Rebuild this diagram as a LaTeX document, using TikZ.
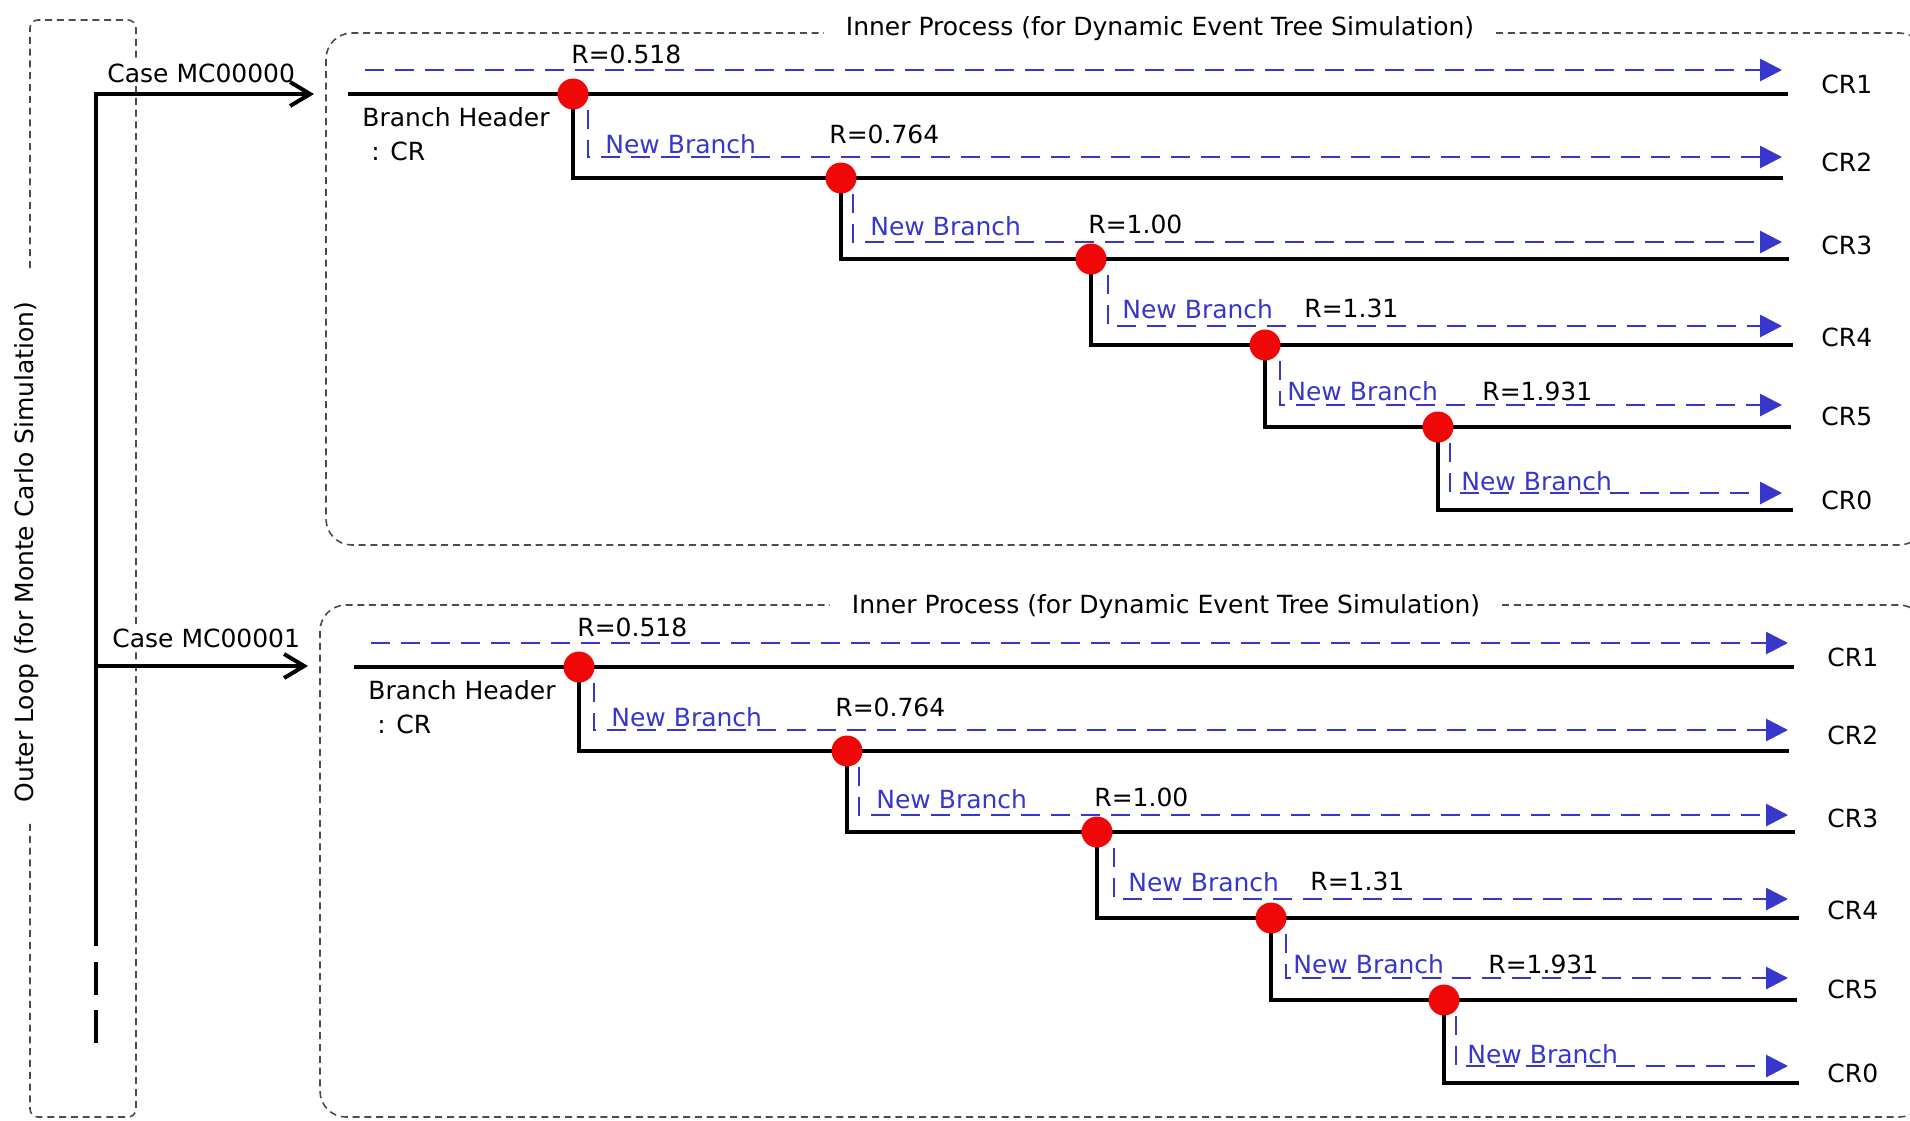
\documentclass[tikz,border=0pt]{standalone}
\usepackage{fontspec}
\setmainfont{DejaVu Sans}
\usetikzlibrary{arrows.meta}

\definecolor{branchblue}{RGB}{55,55,205}
\definecolor{eventred}{RGB}{240,8,8}

\tikzset{
  frame/.style={draw=black!70, line width=0.8pt, dash pattern=on 3.5pt off 2.4pt},
  path line/.style={draw=black, line width=1.8pt},
  trunk/.style={draw=black, line width=2.2pt},
  case arrow/.style={trunk, -{Straight Barb[length=10pt,width=12pt,line width=2pt]}},
  branch/.style={draw=branchblue, line width=1.4pt, dash pattern=on 9.5pt off 5.5pt,
    -{Triangle[length=11pt,width=11pt]}},
  evdot/.style={circle, fill=eventred, minimum size=15.5pt, inner sep=0pt},
  lbl/.style={font=\fontsize{12.5}{15}\selectfont, inner sep=0pt, text=black},
  blbl/.style={lbl, text=branchblue},
  title/.style={lbl, fill=white, inner xsep=11pt, inner ysep=2pt},
}

% One dynamic event tree: #1 = name prefix, #2 = shift of the whole tree
\newcommand{\eventtree}[2]{%
\begin{scope}[shift={#2}]
  % branch points
  \coordinate (#1s1) at (348,94);
  \coordinate (#1e1) at (1788,94);
  \coordinate (#1e2) at (1783,178);
  \coordinate (#1e3) at (1789,259);
  \coordinate (#1e4) at (1793,345);
  \coordinate (#1e5) at (1791,427);
  \coordinate (#1e6) at (1793,510);
  \coordinate (#1p1) at (573,94);
  \coordinate (#1p2) at (841,178);
  \coordinate (#1p3) at (1091,259);
  \coordinate (#1p4) at (1265,345);
  \coordinate (#1p5) at (1438,427);
  % black branch paths
  \draw[path line] (#1s1) -- (#1e1);
  \draw[path line] (#1p1) |- (#1e2);
  \draw[path line] (#1p2) |- (#1e3);
  \draw[path line] (#1p3) |- (#1e4);
  \draw[path line] (#1p4) |- (#1e5);
  \draw[path line] (#1p5) |- (#1e6);
  % blue dashed new-branch arrows
  \coordinate (#1b1) at (365,70);    \coordinate (#1a1) at (1782,70);
  \coordinate (#1b2) at (588,110);   \coordinate (#1a2) at (1782,157);
  \coordinate (#1b3) at (853,194);   \coordinate (#1a3) at (1782,242);
  \coordinate (#1b4) at (1108,275);  \coordinate (#1a4) at (1782,326);
  \coordinate (#1b5) at (1280,361);  \coordinate (#1a5) at (1782,405);
  \coordinate (#1b6) at (1450,443);  \coordinate (#1a6) at (1782,493);
  \draw[branch] (#1b1) -- (#1a1);
  \draw[branch] (#1b2) |- (#1a2);
  \draw[branch] (#1b3) |- (#1a3);
  \draw[branch] (#1b4) |- (#1a4);
  \draw[branch] (#1b5) |- (#1a5);
  \draw[branch] (#1b6) |- (#1a6);
  % event points
  \node[evdot] (#1d1) at (#1p1) {};
  \node[evdot] (#1d2) at (#1p2) {};
  \node[evdot] (#1d3) at (#1p3) {};
  \node[evdot] (#1d4) at (#1p4) {};
  \node[evdot] (#1d5) at (#1p5) {};
  % thresholds
  \node[lbl, anchor=base west] (#1r1) at (571,63)   {R=0.518};
  \node[lbl, anchor=base west] (#1r2) at (829,143)  {R=0.764};
  \node[lbl, anchor=base west] (#1r3) at (1088,233) {R=1.00};
  \node[lbl, anchor=base west] (#1r4) at (1304,317) {R=1.31};
  \node[lbl, anchor=base west] (#1r5) at (1482,400) {R=1.931};
  % new branch labels
  \node[blbl, anchor=base west] (#1n2) at (605,153)  {New Branch};
  \node[blbl, anchor=base west] (#1n3) at (870,235)  {New Branch};
  \node[blbl, anchor=base west] (#1n4) at (1122,318) {New Branch};
  \node[blbl, anchor=base west] (#1n5) at (1287,400) {New Branch};
  \node[blbl, anchor=base west] (#1n6) at (1461,490) {New Branch};
  % branch header
  \node[lbl, anchor=base west] (#1h1) at (362,126) {Branch Header};
  \node[lbl, anchor=base west] (#1h2) at (371,160) {: CR};
  % end states
  \node[lbl, anchor=base west] (#1cr1) at (1821,93)  {CR1};
  \node[lbl, anchor=base west] (#1cr2) at (1821,171) {CR2};
  \node[lbl, anchor=base west] (#1cr3) at (1821,254) {CR3};
  \node[lbl, anchor=base west] (#1cr4) at (1821,346) {CR4};
  \node[lbl, anchor=base west] (#1cr5) at (1821,425) {CR5};
  \node[lbl, anchor=base west] (#1cr0) at (1821,509) {CR0};
\end{scope}}

\begin{document}
\begin{tikzpicture}[x=0.5pt, y=-0.5pt]
  \fill[white] (0,0) rectangle (1910,1120);
  \useasboundingbox (0,0) rectangle (1910,1120);

  % outer Monte Carlo loop frame, open where its label sits
  \draw[frame, rounded corners=4pt]
    (30,268) -- (30,20) -- (136,20) -- (136,1117) -- (30,1117) -- (30,822);
  \node[lbl, rotate=90] (outer) at (27,552) {Outer Loop (for Monte Carlo Simulation)};

  % inner process frames
  \draw[frame, rounded corners=13pt] (326,33) rectangle (1925,545);
  \node[title, anchor=base] (inner1) at (1160,35) {Inner Process (for Dynamic Event Tree Simulation)};
  \draw[frame, rounded corners=13pt] (320,605) rectangle (1925,1117);
  \node[title, anchor=base] (inner2) at (1166,613) {Inner Process (for Dynamic Event Tree Simulation)};

  % Monte Carlo trunk with its cases
  \coordinate (tip1) at (314,94);
  \coordinate (tip2) at (308,666);
  \coordinate (trunkend) at (96,946);
  \coordinate (gap1a) at (96,962);  \coordinate (gap1b) at (96,995);
  \coordinate (gap2a) at (96,1010); \coordinate (gap2b) at (96,1043);
  \node[lbl, fill=white, inner sep=1pt, anchor=base west] (case1) at (105,82) {Case MC00000};
  \node[lbl, fill=white, inner sep=1pt, anchor=base west] (case2) at (110,647) {Case MC00001};
  \draw[case arrow] (trunkend) |- (tip1);
  \draw[case arrow] (trunkend |- tip2) -- (tip2);
  \draw[trunk] (gap1a) -- (gap1b);
  \draw[trunk] (gap2a) -- (gap2b);

  % the two event trees
  \eventtree{t}{(0,0)}
  \eventtree{u}{(6,573)}
\end{tikzpicture}
\end{document}
